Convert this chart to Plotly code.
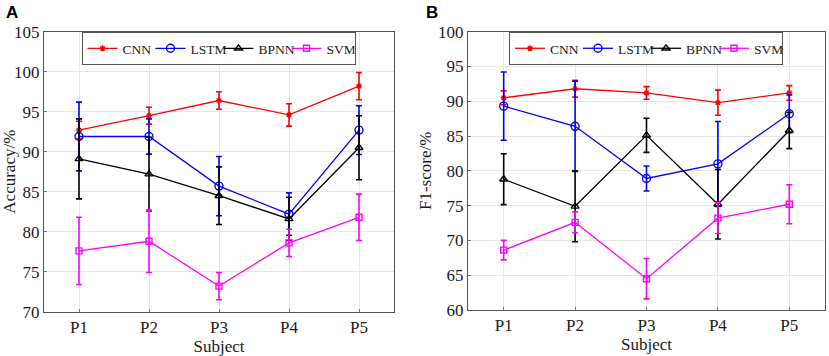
import plotly.graph_objects as go
from plotly.subplots import make_subplots

subjects = ["P1", "P2", "P3", "P4", "P5"]
series_names = ["CNN", "LSTM", "BPNN", "SVM"]

# Panel A: Accuracy (%)
acc_cnn = [92.7, 94.5, 96.4, 94.6, 98.2]
acc_cnn_err = [1.1, 1.05, 1.1, 1.4, 1.7]
acc_lstm = [91.9, 91.9, 85.7, 82.2, 92.7]
acc_lstm_err = [4.3, 2.2, 3.7, 2.65, 3.05]
acc_bpnn = [89.1, 87.2, 84.5, 81.6, 90.5]
acc_bpnn_err = [5.0, 4.6, 3.6, 2.7, 4.0]
acc_svm = [77.6, 78.8, 73.2, 78.6, 81.8]
acc_svm_err = [4.2, 3.9, 1.7, 1.7, 2.9]

# Panel B: F1-score (%)
f1_cnn = [90.5, 91.8, 91.2, 89.8, 91.2]
f1_cnn_err = [1.0, 1.2, 0.9, 1.8, 1.05]
f1_lstm = [89.3, 86.4, 78.9, 81.0, 88.2]
f1_lstm_err = [4.9, 6.5, 1.8, 6.1, 2.7]
f1_bpnn = [78.8, 74.9, 85.1, 75.2, 85.8]
f1_bpnn_err = [3.65, 5.1, 2.45, 5.0, 2.6]
f1_svm = [68.6, 72.6, 64.5, 73.2, 75.2]
f1_svm_err = [1.4, 1.5, 2.9, 2.2, 2.8]

colors = ["#ff0000", "#0000ff", "#000000", "#ff00ff"]
symbols = ["asterisk-open", "circle-open", "triangle-up-open", "square-open"]
msizes = [5, 8, 7, 6]

panel_a = [(acc_cnn, acc_cnn_err), (acc_lstm, acc_lstm_err), (acc_bpnn, acc_bpnn_err), (acc_svm, acc_svm_err)]
panel_b = [(f1_cnn, f1_cnn_err), (f1_lstm, f1_lstm_err), (f1_bpnn, f1_bpnn_err), (f1_svm, f1_svm_err)]

W, H = 829, 356
fig = make_subplots(rows=1, cols=2)

xs = [1, 2, 3, 4, 5]
for col, (panel, leg) in enumerate([(panel_a, "legend"), (panel_b, "legend2")], start=1):
    for i, (vals, errs) in enumerate(panel):
        fig.add_trace(go.Scatter(
            x=xs, y=vals, name=series_names[i], mode="lines+markers",
            line=dict(color=colors[i], width=1.3),
            marker=dict(symbol=symbols[i], size=msizes[i], color=colors[i],
                        line=dict(color=colors[i], width=1.4)),
            error_y=dict(type="data", array=errs, visible=True, color=colors[i],
                         thickness=1.6, width=3),
            legend=leg,
        ), row=1, col=col)

font_family = "Liberation Serif, Times New Roman, serif"
axis_common = dict(
    showline=True, mirror=True, linecolor="#555555", linewidth=1,
    showgrid=True, gridcolor="#e6e6e6", gridwidth=1,
    ticks="inside", ticklen=3, tickcolor="#777777",
    tickfont=dict(family=font_family, size=17, color="#1a1a1a"),
    zeroline=False, automargin=False,
)

fig.update_xaxes(**axis_common, range=[0.5, 5.5], tickvals=xs, ticktext=subjects,
                 title=dict(text="Subject", font=dict(family=font_family, size=17, color="#1a1a1a"), standoff=0))
fig.update_xaxes(domain=[44 / W, 394 / W], row=1, col=1)
fig.update_xaxes(domain=[468 / W, 825 / W], row=1, col=2)

fig.update_yaxes(**axis_common)
fig.update_yaxes(range=[70, 105], dtick=5, domain=[(H - 311.7) / H, (H - 31.7) / H],
                 title=dict(text="Accuracy/%", font=dict(family=font_family, size=17, color="#1a1a1a"), standoff=6),
                 row=1, col=1)
fig.update_yaxes(range=[60, 100], dtick=5, domain=[(H - 310) / H, (H - 31.7) / H],
                 title=dict(text="F1-score/%", font=dict(family=font_family, size=17, color="#1a1a1a"), standoff=2),
                 row=1, col=2)

legend_common = dict(
    orientation="h", bgcolor="white", bordercolor="#555555", borderwidth=1,
    font=dict(family=font_family, size=13.5, color="#1a1a1a"),
    xanchor="center", yanchor="top", itemwidth=30, tracegroupgap=0,
    entrywidth=23, entrywidthmode="pixels",
)
fig.update_layout(
    width=W, height=H, margin=dict(l=0, r=0, t=0, b=0),
    font=dict(family=font_family, color="#1a1a1a"),
    paper_bgcolor="white", plot_bgcolor="white",
    legend=dict(**legend_common, x=(88 + 349) / 2 / W, y=(H - 32) / H),
    legend2=dict(**legend_common, x=(499 + 793) / 2 / W, y=(H - 32) / H),
    annotations=[
        dict(text="<b>A</b>", x=4 / W, y=1 - 1 / H, xref="paper", yref="paper",
             xanchor="left", yanchor="top", showarrow=False,
             font=dict(family="Liberation Sans", size=17, color="black")),
        dict(text="<b>B</b>", x=424 / W, y=1 - 1 / H, xref="paper", yref="paper",
             xanchor="left", yanchor="top", showarrow=False,
             font=dict(family="Liberation Sans", size=17, color="black")),
    ],
)

fig.write_html("out.html", config={"displayModeBar": False},
               post_script="document.body.style.margin='0';document.body.style.overflow='hidden';")
